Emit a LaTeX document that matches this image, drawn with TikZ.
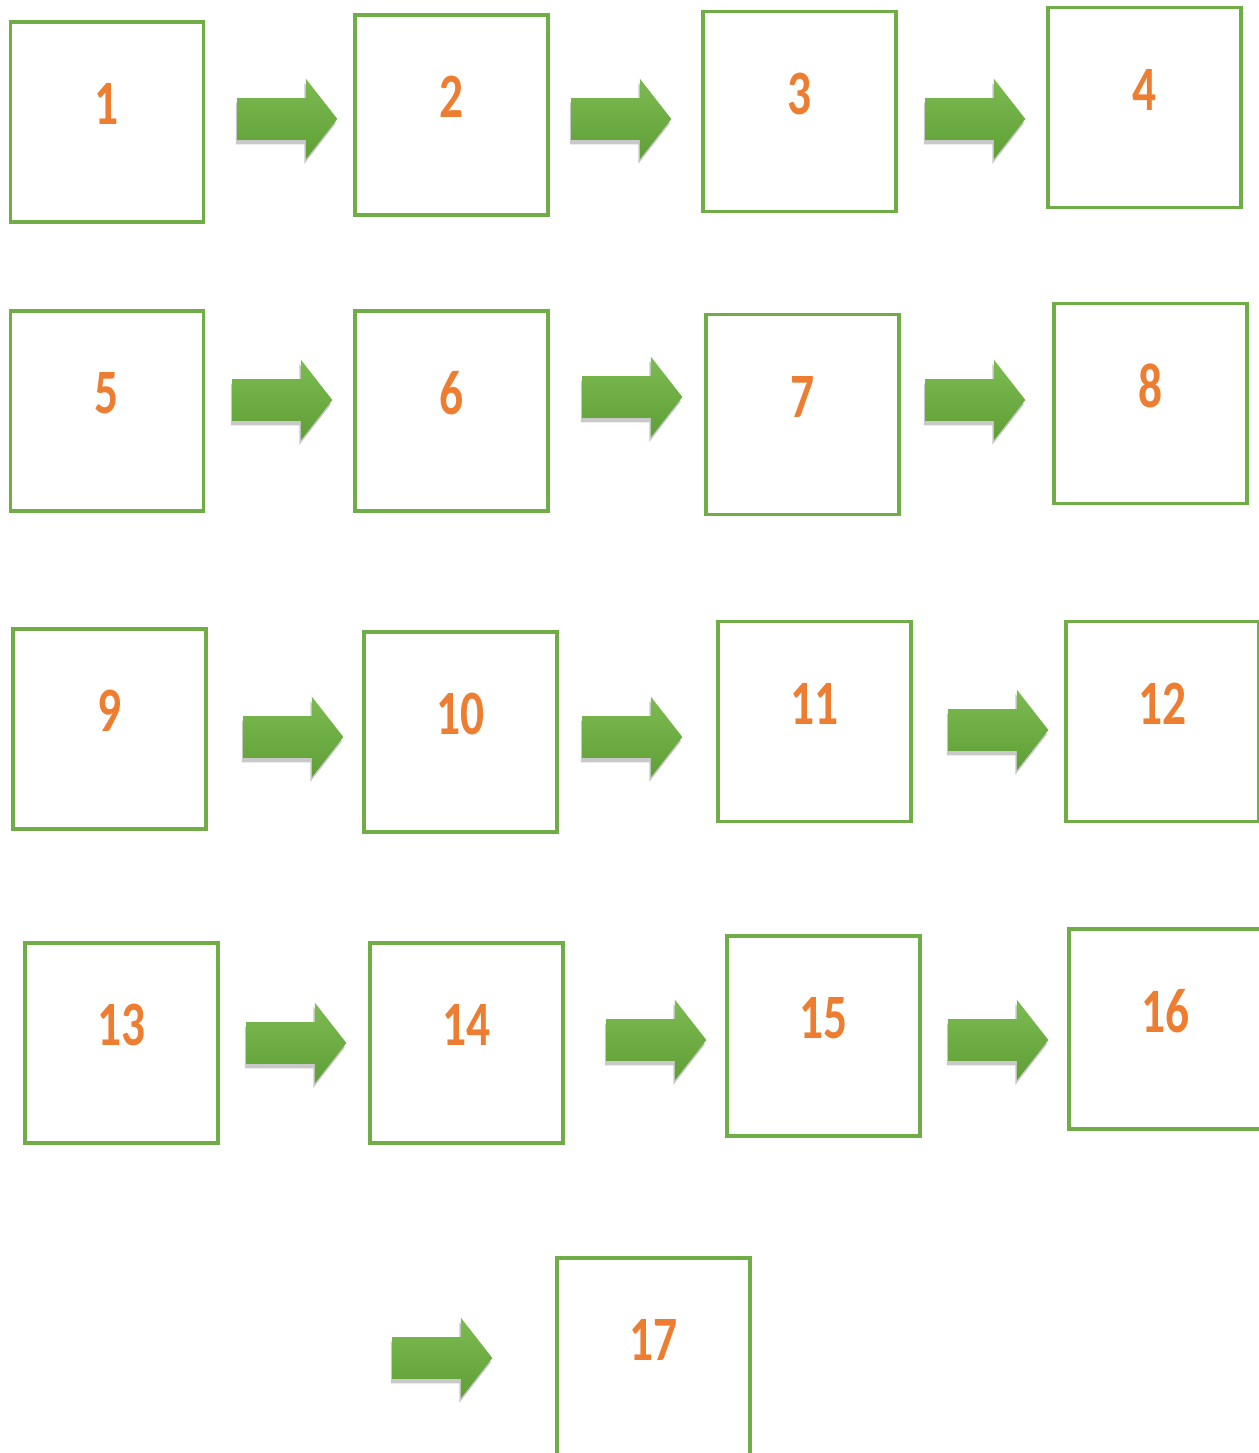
\documentclass[tikz,border=0pt]{standalone}
\usepackage{fontspec}
\newfontfamily\stepnumfont[FakeStretch=0.75]{Carlito}
\usepackage{tikz}
\usetikzlibrary{shapes.arrows,shadows}
\definecolor{stepgreen}{HTML}{70AD47}
\definecolor{steporange}{HTML}{ED7D31}
\definecolor{arrowlight}{HTML}{7DBB52}
\definecolor{arrowdark}{HTML}{5E9F36}

\begin{document}
\begin{tikzpicture}[
  x=0.02cm,y=-0.02cm,
  num/.style={text=steporange,font=\stepnumfont\bfseries\fontsize{36}{36}\selectfont,inner sep=0pt},
  box/.style={draw=stepgreen,line width=2pt,minimum width=3.86cm,minimum height=4cm,inner sep=0pt,
    label={[num,yshift=0.36cm]center:#1}},
  go/.style={single arrow,anchor=tail,single arrow head extend=0.39cm,single arrow tip angle=104,
    minimum height=2cm,inner xsep=0pt,inner ysep=0.41cm,draw=none,
    top color=arrowlight,bottom color=arrowdark,
    drop shadow={shadow xshift=-0.03cm,shadow yshift=-0.09cm,opacity=0.3,fill=black!70}}
]
\useasboundingbox (0,0) rectangle (1258,1453);
% row 1
\node[box=1] (n1) at (107,122) {};
\node[box=2] (n2) at (451.5,115) {};
\node[box=3] (n3) at (799.5,111.5) {};
\node[box=4] (n4) at (1144.5,107.5) {};
\node[go] (a1) at (237,119) {};
\node[go] (a2) at (571,119) {};
\node[go] (a3) at (925,119) {};
% row 2
\node[box=5] (n5) at (107,411) {};
\node[box=6] (n6) at (451.5,411) {};
\node[box=7] (n7) at (802.5,414.5) {};
\node[box=8] (n8) at (1150.5,403.5) {};
\node[go] (a4) at (232,400) {};
\node[go] (a5) at (582,397) {};
\node[go] (a6) at (925,400) {};
% row 3
\node[box=9] (n9) at (109.5,729) {};
\node[box=10] (n10) at (460.5,732) {};
\node[box=11] (n11) at (814.5,721.5) {};
\node[box=12] (n12) at (1162.5,721.5) {};
\node[go] (a7) at (243,737) {};
\node[go] (a8) at (582,737) {};
\node[go] (a9) at (948,730) {};
% row 4
\node[box=13] (n13) at (121.5,1043) {};
\node[box=14] (n14) at (466.5,1043) {};
\node[box=15] (n15) at (823.5,1036) {};
\node[box=16] (n16) at (1165.5,1029) {};
\node[go] (a10) at (246,1043) {};
\node[go] (a11) at (606,1040) {};
\node[go] (a12) at (948,1040) {};
% last
\node[box=17] (n17) at (653.5,1358) {};
\node[go] (a13) at (392,1358) {};
\end{tikzpicture}
\end{document}
